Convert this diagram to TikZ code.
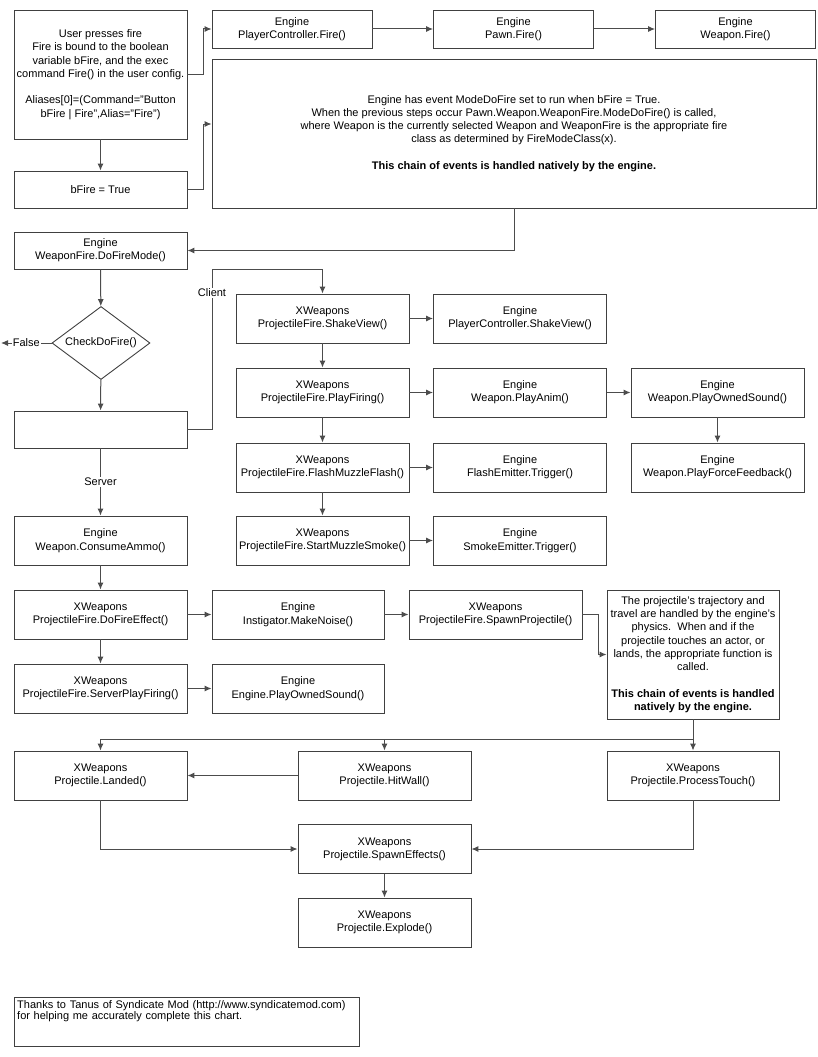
\documentclass[tikz,border=0pt]{standalone}
\usepackage{fontspec}
\setmainfont{Liberation Sans}
\usetikzlibrary{shapes.geometric,arrows.meta}

\begin{document}
\begin{tikzpicture}[x=1pt,y=-1pt,>={Latex[length=7pt,width=6pt]},
  font=\fontsize{11}{13.3}\selectfont,
  box/.style={draw=black!75,line width=0.9pt,align=center,inner sep=1pt,minimum width=173pt,minimum height=49pt},
  flat/.style={box,minimum height=37pt},
  topbox/.style={box,minimum width=160pt,minimum height=38pt},
  link/.style={->,draw=black!70,line width=1pt},
  lbl/.style={fill=white,inner sep=1pt}]
\useasboundingbox (0,0) rectangle (817,1057);

% input and engine side
\node[box,minimum height=129pt] (user) at (100.5,74.5) {User presses fire\\Fire is bound to the boolean\\variable bFire, and the exec\\command Fire() in the user config.\\[13.3pt]Aliases[0]=(Command="Button\\bFire | Fire",Alias="Fire")};
\node[topbox] (pcfire) at (292,29) {Engine\\PlayerController.Fire()};
\node[topbox] (pawnfire) at (513.5,29) {Engine\\Pawn.Fire()};
\node[topbox] (wpnfire) at (735.5,29) {Engine\\Weapon.Fire()};
\node[box,minimum width=604pt,minimum height=149pt] (native) at (514,133.5) {Engine has event ModeDoFire set to run when bFire = True.\\When the previous steps occur Pawn.Weapon.WeaponFire.ModeDoFire() is called,\\where Weapon is the currently selected Weapon and WeaponFire is the appropriate fire\\class as determined by FireModeClass(x).\\[13.3pt]\textbf{This chain of events is handled natively by the engine.}};
\node[flat] (bfire) at (100.5,189.5) {bFire = True};
\node[flat] (dofiremode) at (100.5,250.5) {Engine\\WeaponFire.DoFireMode()};
\node[draw=black!75,line width=0.9pt,diamond,aspect=1.34,minimum width=98pt,minimum height=73pt,inner sep=0pt] (check) at (101,343) {CheckDoFire()};
\coordinate (nofire) at (1,343);
\node[flat] (netmode) at (100.5,429.5) {};

% client side
\node[box] (shakeview) at (322.5,318.5) {XWeapons\\ProjectileFire.ShakeView()};
\node[box] (playfiring) at (322.5,392.5) {XWeapons\\ProjectileFire.PlayFiring()};
\node[box] (muzzleflash) at (322.5,467.5) {XWeapons\\ProjectileFire.FlashMuzzleFlash()};
\node[box] (muzzlesmoke) at (322.5,540.5) {XWeapons\\ProjectileFire.StartMuzzleSmoke()};
\node[box] (pcshake) at (520,318.5) {Engine\\PlayerController.ShakeView()};
\node[box] (playanim) at (520,392.5) {Engine\\Weapon.PlayAnim()};
\node[box] (flashemit) at (520,467.5) {Engine\\FlashEmitter.Trigger()};
\node[box] (smokeemit) at (520,540.5) {Engine\\SmokeEmitter.Trigger()};
\node[box] (playowned) at (717.5,392.5) {Engine\\Weapon.PlayOwnedSound()};
\node[box] (forcefb) at (717.5,467.5) {Engine\\Weapon.PlayForceFeedback()};

% server side
\node[box] (consumeammo) at (100.5,540.5) {Engine\\Weapon.ConsumeAmmo()};
\node[box] (dofireeffect) at (100.5,614.5) {XWeapons\\ProjectileFire.DoFireEffect()};
\node[box] (serverplay) at (100.5,688.5) {XWeapons\\ProjectileFire.ServerPlayFiring()};
\node[box,minimum width=172pt] (makenoise) at (298,614.5) {Engine\\Instigator.MakeNoise()};
\node[box,minimum width=172pt] (engowned) at (298,688.5) {Engine\\Engine.PlayOwnedSound()};
\node[box] (spawnproj) at (495.5,614.5) {XWeapons\\ProjectileFire.SpawnProjectile()};
\node[box,minimum width=172pt,minimum height=129pt] (trajectory) at (693,654.5) {The projectile's trajectory and\\travel are handled by the engine's\\physics.\ \ When and if the\\projectile touches an actor, or\\lands, the appropriate function is\\called.\\[13.3pt]\textbf{This chain of events is handled}\\\textbf{natively by the engine.}};
\coordinate (split) at (693,739);

% projectile
\node[box] (landed) at (100.5,775.5) {XWeapons\\Projectile.Landed()};
\node[box] (hitwall) at (384.5,775.5) {XWeapons\\Projectile.HitWall()};
\node[box,minimum width=172pt] (processtouch) at (693,775.5) {XWeapons\\Projectile.ProcessTouch()};
\node[box] (spawneffects) at (384.5,849) {XWeapons\\Projectile.SpawnEffects()};
\node[box] (explode) at (384.5,922.5) {XWeapons\\Projectile.Explode()};

\node[anchor=north west,text width=339pt,align=left,inner sep=3pt,font=\fontsize{11}{10}\selectfont] (thanks) at (14,997) {Thanks to Tanus of Syndicate Mod (http://www.syndicatemod.com)\\for helping me accurately complete this chart.};
\draw[draw=black!75,line width=0.9pt] (thanks.north west) rectangle ++(345,49);

% connectors
\draw[link] (user.east) -- ++(16,0) |- (pcfire.west);
\draw[link] (pcfire) -- (pawnfire);
\draw[link] (pawnfire) -- (wpnfire);
\draw[link] (user) -- (bfire);
\draw[link] (bfire.east) -- ++(16,0) |- ([yshift=9.5pt]native.west);
\draw[link] (native.south) |- (dofiremode.east);
\draw[link] (dofiremode) -- (check);
\draw[link] (check.west) -- node[lbl] {False} (nofire);
\draw[link] (check) -- (netmode);
\draw[link] (netmode.east) -| ++(25,-160.5) -| (shakeview.north);
\node[lbl] (client) at (212,293) {Client};
\draw[link] (netmode) -- node[lbl] {Server} (consumeammo);

\draw[link] (shakeview) -- (pcshake);
\draw[link] (shakeview) -- (playfiring);
\draw[link] (playfiring) -- (playanim);
\draw[link] (playanim) -- (playowned);
\draw[link] (playowned) -- (forcefb);
\draw[link] (playfiring) -- (muzzleflash);
\draw[link] (muzzleflash) -- (flashemit);
\draw[link] (muzzleflash) -- (muzzlesmoke);
\draw[link] (muzzlesmoke) -- (smokeemit);

\draw[link] (consumeammo) -- (dofireeffect);
\draw[link] (dofireeffect) -- (makenoise);
\draw[link] (makenoise) -- (spawnproj);
\draw[link] (dofireeffect) -- (serverplay);
\draw[link] (serverplay) -- (engowned);
\draw[link] (spawnproj.east) -- ++(16,0) |- (trajectory.west);

\draw[link] (trajectory) -- (processtouch);
\draw[link] (split) -| (hitwall.north);
\draw[link] (split) -| (landed.north);
\draw[link] (hitwall) -- (landed);
\draw[link] (landed.south) |- (spawneffects.west);
\draw[link] (processtouch.south) |- (spawneffects.east);
\draw[link] (spawneffects) -- (explode);
\end{tikzpicture}
\end{document}
